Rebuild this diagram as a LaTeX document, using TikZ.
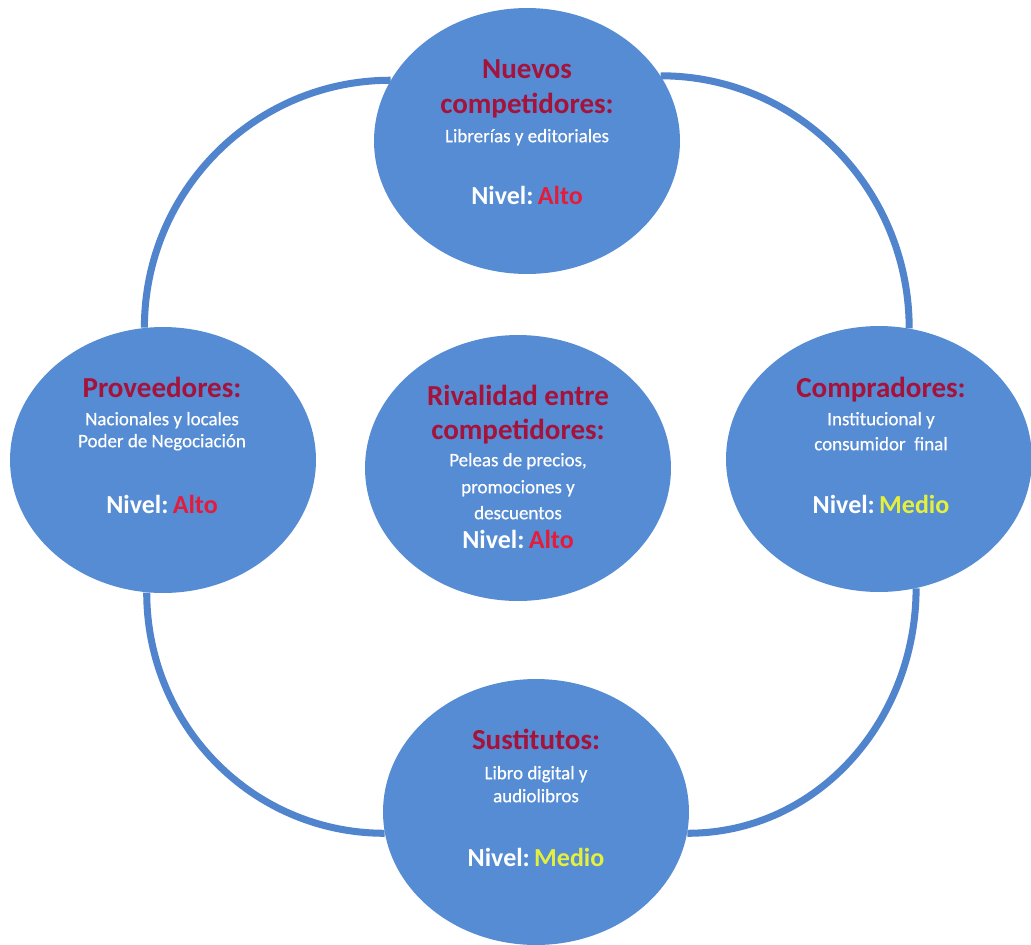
\documentclass[tikz,border=0pt]{standalone}
\usepackage{fontspec}
\setmainfont{Carlito}
\newfontfamily\semibfont[FakeBold=0.5]{Carlito}
\usetikzlibrary{shapes.geometric}
\pgfdeclarelayer{bg}
\pgfsetlayers{bg,main}
\definecolor{circfill}{RGB}{85,140,212}
\definecolor{ringcol}{RGB}{80,132,205}
\definecolor{ttlred}{RGB}{165,18,58}
\definecolor{altored}{RGB}{228,28,58}
\definecolor{medioyel}{RGB}{228,240,60}
\tikzset{
  force/.style={ellipse, fill=circfill, minimum width=6.12cm, minimum height=5.32cm, inner sep=0pt},
  ring/.style={draw=ringcol, line width=4pt},
  ttl/.style={text=ttlred, font=\fontsize{16.5}{18}\selectfont\bfseries, anchor=mid, inner sep=0pt},
  sub/.style={text=white, font=\fontsize{10.8}{12}\selectfont\semibfont, anchor=mid, inner sep=0pt},
  lvl/.style={text=white, font=\fontsize{14.8}{16}\selectfont\bfseries, anchor=mid, inner sep=0pt},
}
\newcommand{\alto}{Nivel:\,\textcolor{altored}{Alto}}
\newcommand{\medio}{Nivel:\,\textcolor{medioyel}{Medio}}
\begin{document}
\begin{tikzpicture}[x=0.02cm,y=-0.02cm]
\useasboundingbox (0,0) rectangle (1031,944);
% circles
\node[force] (T) at (527,141) {};
\node[force] (L) at (163,460) {};
\node[force] (C) at (518,468) {};
\node[force] (R) at (879,459) {};
\node[force] (B) at (536,812) {};
% ring connectors behind the circles
\begin{pgfonlayer}{bg}
\fill[white] (0,0) rectangle (1031,944);
\draw[ring] (L.98) to[out=90,in=180] (T.156);
\draw[ring] (T.26) to[out=0,in=90] (R.77);
\draw[ring] (L.263) to[out=-90,in=180] (B.188);
\draw[ring] (R.286) to[out=-90,in=0] (B.352);
\end{pgfonlayer}
% top
\node[ttl] (t1) at (527,74) {Nuevos};
\node[ttl] (t2) at (527,109) {competidores:};
\node[sub] (t3) at (527,138) {Librerías y editoriales};
\node[lvl] (t4) at (527,200) {\alto};
% left
\node[ttl] (l1) at (162,393) {Proveedores:};
\node[sub] (l2) at (162,421) {Nacionales y locales};
\node[sub] (l3) at (162,443) {Poder de Negociación};
\node[lvl] (l4) at (162,509) {\alto};
% center
\node[ttl] (c1) at (518,401) {Rivalidad entre};
\node[ttl] (c2) at (518,435) {competidores:};
\node[sub] (c3) at (518,462) {Peleas de precios,};
\node[sub] (c4) at (518,489) {promociones y};
\node[sub] (c5) at (518,515) {descuentos};
\node[lvl] (c6) at (518,544) {\alto};
% right
\node[ttl] (r1) at (881,393) {Compradores:};
\node[sub] (r2) at (881,421) {Institucional y};
\node[sub] (r3) at (881,446) {consumidor\ \ final};
\node[lvl] (r4) at (881,509) {\medio};
% bottom
\node[ttl] (b1) at (536,745) {Sustitutos:};
\node[sub] (b2) at (536,775) {Libro digital y};
\node[sub] (b3) at (536,798) {audiolibros};
\node[lvl] (b4) at (536,862) {\medio};
\end{tikzpicture}
\end{document}
